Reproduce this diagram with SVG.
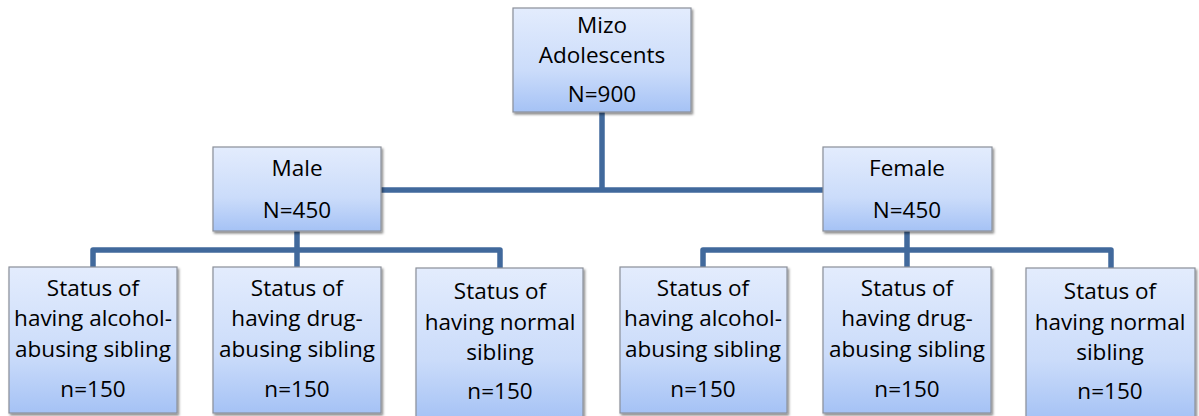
<svg xmlns="http://www.w3.org/2000/svg" width="1199" height="416" viewBox="0 0 1199 416">
<defs>
<linearGradient id="g" x1="0" y1="0" x2="0" y2="1">
<stop offset="0" stop-color="#e3ecfd"/>
<stop offset="0.6" stop-color="#cbdcfa"/>
<stop offset="1" stop-color="#a5c2f5"/>
</linearGradient>
<filter id="sh" x="-10%" y="-10%" width="130%" height="130%">
<feDropShadow dx="1.5" dy="2" stdDeviation="1.2" flood-color="#000" flood-opacity="0.45"/>
</filter>
</defs>
<style>
.box{fill:url(#g);stroke:#8a8f99;stroke-width:1.2;filter:url(#sh)}
.t{font-family:"Open Sans","Liberation Sans",sans-serif;font-size:22.5px;fill:#000;text-anchor:middle}
.c{fill:none;stroke:#41699c;stroke-width:5.5;stroke-linejoin:round}
</style>
<g id="connectors">
<path class="c" d="M602 112 V190"/>
<path class="c" d="M381 190 H823"/>
<path class="c" d="M297 231 V267"/>
<path class="c" d="M93 267 V250 H500 V268"/>
<path class="c" d="M907 231 V267"/>
<path class="c" d="M703 267 V250 H1111 V268"/>
</g>
<g id="root">
<rect class="box" x="513" y="8" width="178" height="104"/>
<text class="t" x="602" y="33">Mizo</text>
<text class="t" x="602" y="63">Adolescents</text>
<text class="t" x="602" y="102">N=900</text>
</g>
<g id="male">
<rect class="box" x="213" y="147" width="168" height="84"/>
<text class="t" x="297" y="176">Male</text>
<text class="t" x="297" y="218">N=450</text>
</g>
<g id="female">
<rect class="box" x="823" y="147" width="169" height="84"/>
<text class="t" x="907" y="176">Female</text>
<text class="t" x="907" y="218">N=450</text>
</g>
<g id="m-alcohol">
<rect class="box" x="9" y="267" width="168" height="146"/>
<text class="t" x="93" y="296">Status of</text>
<text class="t" x="93" y="326">having alcohol-</text>
<text class="t" x="93" y="357">abusing sibling</text>
<text class="t" x="93" y="397">n=150</text>
</g>
<g id="m-drug">
<rect class="box" x="213" y="267" width="168" height="146"/>
<text class="t" x="297" y="296">Status of</text>
<text class="t" x="297" y="326">having drug-</text>
<text class="t" x="297" y="357">abusing sibling</text>
<text class="t" x="297" y="397">n=150</text>
</g>
<g id="m-normal">
<rect class="box" x="416" y="268" width="167" height="152"/>
<text class="t" x="500" y="299">Status of</text>
<text class="t" x="500" y="330">having normal</text>
<text class="t" x="500" y="360">sibling</text>
<text class="t" x="500" y="399">n=150</text>
</g>
<g id="f-alcohol">
<rect class="box" x="620" y="267" width="167" height="146"/>
<text class="t" x="703" y="296">Status of</text>
<text class="t" x="703" y="326">having alcohol-</text>
<text class="t" x="703" y="357">abusing sibling</text>
<text class="t" x="703" y="397">n=150</text>
</g>
<g id="f-drug">
<rect class="box" x="823" y="267" width="168" height="146"/>
<text class="t" x="907" y="296">Status of</text>
<text class="t" x="907" y="326">having drug-</text>
<text class="t" x="907" y="357">abusing sibling</text>
<text class="t" x="907" y="397">n=150</text>
</g>
<g id="f-normal">
<rect class="box" x="1026" y="268" width="169" height="152"/>
<text class="t" x="1110" y="299">Status of</text>
<text class="t" x="1110" y="330">having normal</text>
<text class="t" x="1110" y="360">sibling</text>
<text class="t" x="1110" y="399">n=150</text>
</g>
</svg>
